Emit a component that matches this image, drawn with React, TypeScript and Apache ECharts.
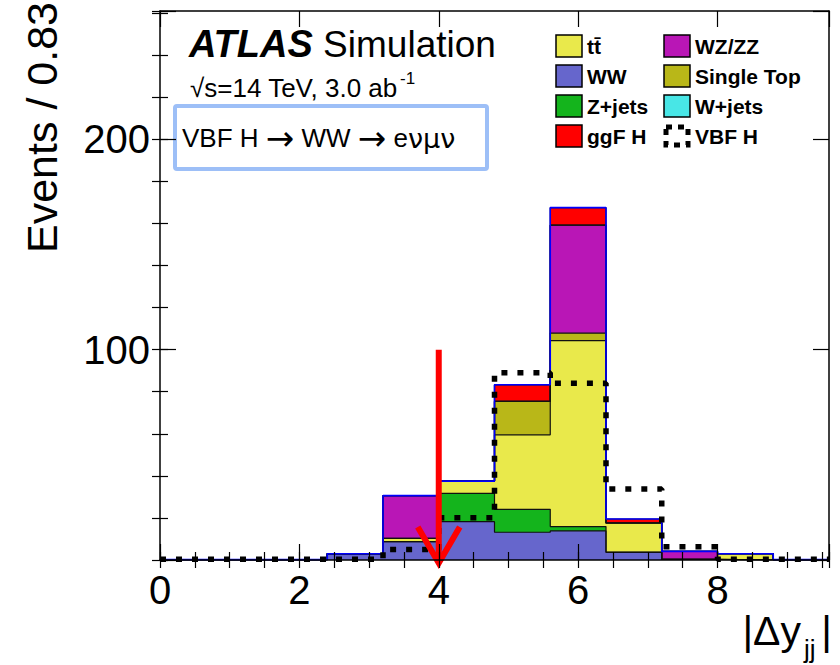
import React, { useEffect, useRef } from "react";
import * as echarts from "echarts";

// |Δy_jj| histogram binning (12 bins of 0.8)
const binEdges = [0, 0.8, 1.6, 2.4, 3.2, 4.0, 4.8, 5.6, 6.4, 7.2, 8.0, 8.8, 9.6];

// Background processes, listed in stacking order (bottom to top)
const ww = [0.2, 0.2, 0.2, 3.0, 8.7, 18.2, 13.2, 13.8, 3.6, 0.3, 0.0, 0.1];
const zJets = [0, 0, 0, 0, 0, 13.5, 10.9, 2.1, 0.2, 0, 0, 0];
const ttbar = [0, 0, 0, 0, 1.6, 5.8, 35.4, 88.4, 13.8, 0, 3.0, 0.1];
const singleTop = [0, 0, 0, 0, 0, 0, 15.9, 3.6, 0, 0, 0, 0];
const wzZZ = [0, 0, 0, 0, 20.3, 0, 0, 51.3, 0, 3.8, 0, 0];
const wJets = [0, 0, 0, 0, 0, 0, 0, 0, 0, 0, 0, 0];
const ggfH = [0, 0, 0, 0, 0, 0, 7.9, 8.3, 1.9, 0, 0, 0];

// Signal, drawn unstacked
const vbfH = [0.3, 0.3, 0.3, 0.3, 5.0, 20.1, 89.0, 84.0, 33.8, 6.3, 0.3, 0.3];

// Selection cut shown by the arrow
const cutValue = 4;
const cutArrowTop = 100;

const xTickLabels = [0, 2, 4, 6, 8];
const yTickLabels = [100, 200];

const FONT = "'Liberation Sans', Arial, Helvetica, sans-serif";
const SYM = "'DejaVu Sans', sans-serif";

const processes = [
  { name: "WW", values: ww, color: "#6666cc" },
  { name: "Z+jets", values: zJets, color: "#14b41c" },
  { name: "tt\u0304", values: ttbar, color: "#e9e94b" },
  { name: "Single Top", values: singleTop, color: "#b9b718" },
  { name: "WZ/ZZ", values: wzZZ, color: "#b916b6" },
  { name: "W+jets", values: wJets, color: "#48e6e6" },
  { name: "ggF H", values: ggfH, color: "#ff0000" },
];

// Points for a step outline: one point per bin's left edge, plus the last right edge
const stepPoints = (vals: number[]) => [
  ...vals.map((v, i) => [binEdges[i], v]),
  [binEdges[vals.length], vals[vals.length - 1]],
];

const textStyle = (extra: any) => ({
  fill: "#000",
  textAlign: "left",
  textVerticalAlign: "middle",
  align: "left",
  verticalAlign: "middle",
  ...extra,
});

export default function App() {
  const ref = useRef<HTMLDivElement>(null);

  useEffect(() => {
    if (!ref.current) return;
    const chart = echarts.init(ref.current, undefined, { renderer: "svg" });

    // cumulative sums for the stack
    const cumulative: number[][] = [];
    processes.forEach((p, k) => {
      cumulative.push(
        p.values.map((v, i) => v + (k > 0 ? cumulative[k - 1][i] : 0))
      );
    });
    const total = cumulative[cumulative.length - 1];

    // draw the tallest cumulative first so lower ones overlay it (THStack style)
    const stackSeries = processes
      .map((p, k) => ({
        name: p.name,
        type: "line",
        step: "end",
        data: stepPoints(cumulative[k]),
        symbol: "none",
        silent: true,
        lineStyle: { color: "#111111", width: 1.2 },
        areaStyle: { color: p.color, opacity: 1 },
        z: 2,
      }))
      .reverse();

    const xBase = {
      type: "value",
      min: 0,
      max: 9.6,
      splitLine: { show: false },
      z: 10,
    };
    const yBase = {
      type: "value",
      min: 0,
      max: 261,
      splitLine: { show: false },
      z: 10,
    };
    const frameLine = { show: true, onZero: false, lineStyle: { color: "#000", width: 1.5 } };
    const tickStyle = { color: "#000", width: 1.2 };

    const legendRows = [
      [processes[2], processes[4]],
      [processes[0], processes[3]],
      [processes[1], processes[5]],
      [processes[6], null],
    ];
    const legendGraphics: any[] = [];
    const colX = [556, 664];
    const rowY = [46, 76, 106, 136];
    legendRows.forEach((row, r) => {
      row.forEach((p, c) => {
        const x = colX[c];
        const y = rowY[r];
        if (p) {
          legendGraphics.push({
            type: "rect",
            shape: { x, y: y - 11, width: 26, height: 22 },
            style: { fill: p.color, stroke: "#000", lineWidth: 1.5 },
          });
        } else {
          legendGraphics.push({
            type: "rect",
            shape: { x: x + 2, y: y - 9, width: 22, height: 18 },
            style: { fill: "none", stroke: "#000", lineWidth: 5, lineDash: [6, 6] },
          });
        }
        legendGraphics.push({
          type: "text",
          x: x + 31,
          y,
          style: textStyle({
            text: p ? p.name : "VBF H",
            font: `bold 21px ${FONT}`,
          }),
        });
      });
    });

    chart.setOption({
      animation: false,
      backgroundColor: "#ffffff",
      grid: { left: 160, right: 11, top: 11, bottom: 105, containLabel: false },
      xAxis: [
        {
          ...xBase,
          position: "bottom",
          interval: 2,
          axisLine: frameLine,
          axisTick: { inside: true, length: 16, lineStyle: tickStyle },
          axisLabel: {
            formatter: (v: number) => (xTickLabels.includes(v) ? String(v) : ""),
            fontSize: 40,
            fontFamily: FONT,
            color: "#000",
            margin: 10,
          },
        },
        {
          ...xBase,
          position: "bottom",
          interval: 0.5,
          axisLine: { show: false },
          axisTick: { inside: true, length: 8, lineStyle: tickStyle },
          axisLabel: { show: false },
        },
        {
          ...xBase,
          position: "top",
          interval: 2,
          axisLine: frameLine,
          axisTick: { inside: true, length: 16, lineStyle: tickStyle },
          axisLabel: { show: false },
        },
        {
          ...xBase,
          position: "top",
          interval: 0.5,
          axisLine: { show: false },
          axisTick: { inside: true, length: 8, lineStyle: tickStyle },
          axisLabel: { show: false },
        },
      ],
      yAxis: [
        {
          ...yBase,
          position: "left",
          interval: 100,
          axisLine: frameLine,
          axisTick: { inside: true, length: 16, lineStyle: tickStyle },
          axisLabel: {
            formatter: (v: number) => (yTickLabels.includes(v) ? String(v) : ""),
            fontSize: 40,
            fontFamily: FONT,
            color: "#000",
            margin: 10,
          },
        },
        {
          ...yBase,
          position: "left",
          interval: 20,
          axisLine: { show: false },
          axisTick: { inside: true, length: 8, lineStyle: tickStyle },
          axisLabel: { show: false },
        },
        {
          ...yBase,
          position: "right",
          interval: 100,
          axisLine: frameLine,
          axisTick: { inside: true, length: 16, lineStyle: tickStyle },
          axisLabel: { show: false },
        },
        {
          ...yBase,
          position: "right",
          interval: 20,
          axisLine: { show: false },
          axisTick: { inside: true, length: 8, lineStyle: tickStyle },
          axisLabel: { show: false },
        },
      ],
      series: [
        ...stackSeries,
        {
          name: "Total",
          type: "line",
          step: "end",
          data: stepPoints(total),
          symbol: "none",
          silent: true,
          lineStyle: { color: "#0000ff", width: 1.6 },
          z: 3,
        },
        {
          name: "VBF H",
          type: "line",
          step: "end",
          data: stepPoints(vbfH),
          symbol: "none",
          silent: true,
          lineStyle: { color: "#000", width: 5.5, type: [6, 10], cap: "butt" },
          z: 4,
        },
        {
          name: "cut",
          type: "custom",
          silent: true,
          z: 5,
          data: [[cutValue, cutArrowTop]],
          renderItem: (_params: any, api: any) => {
            const top = api.coord([api.value(0), api.value(1)]);
            const tip = api.coord([api.value(0), 0]);
            const tipY = tip[1] + 3;
            return {
              type: "group",
              children: [
                {
                  type: "line",
                  shape: { x1: top[0], y1: top[1], x2: tip[0], y2: tipY - 3 },
                  style: { stroke: "#ff0000", lineWidth: 6 },
                },
                {
                  type: "polyline",
                  shape: {
                    points: [
                      [tip[0] - 21, tipY - 36],
                      [tip[0], tipY],
                      [tip[0] + 21, tipY - 36],
                    ],
                  },
                  style: { stroke: "#ff0000", lineWidth: 6, fill: "none" },
                },
              ],
            };
          },
        },
      ],
      graphic: [
        // y-axis title
        {
          type: "text",
          x: 42,
          y: 2,
          rotation: Math.PI / 2,
          style: textStyle({
            text: "Events / 0.83",
            font: `43px ${FONT}`,
            textAlign: "right",
            align: "right",
          }),
        },
        // x-axis title |Δy_jj|
        {
          type: "text",
          x: 801,
          y: 651,
          style: textStyle({
            text: "|\u0394y",
            font: `41px ${FONT}`,
            textAlign: "right",
            align: "right",
            textVerticalAlign: "bottom",
            verticalAlign: "bottom",
          }),
        },
        {
          type: "text",
          x: 804,
          y: 662,
          style: textStyle({
            text: "jj",
            font: `26px ${FONT}`,
            textVerticalAlign: "bottom",
            verticalAlign: "bottom",
          }),
        },
        {
          type: "text",
          x: 832,
          y: 651,
          style: textStyle({
            text: "|",
            font: `41px ${FONT}`,
            textAlign: "right",
            align: "right",
            textVerticalAlign: "bottom",
            verticalAlign: "bottom",
          }),
        },
        // ATLAS label
        {
          type: "text",
          x: 189,
          y: 44,
          style: textStyle({
            text: "{a|ATLAS}{b| Simulation}",
            rich: {
              a: { font: `italic bold 38px ${FONT}`, fill: "#000" },
              b: { font: `37px ${FONT}`, fill: "#000" },
            },
          }),
        },
        {
          type: "text",
          x: 190,
          y: 88,
          style: textStyle({
            text: "\u221As=14 TeV, 3.0 ab",
            font: `26px ${FONT}`,
          }),
        },
        {
          type: "text",
          x: 400,
          y: 78,
          style: textStyle({
            text: "-1",
            font: `17px ${FONT}`,
          }),
        },
        // channel box
        {
          type: "rect",
          shape: { x: 175, y: 106, width: 312, height: 63, r: 2 },
          style: { fill: "none", stroke: "#9dbff7", lineWidth: 4 },
        },
        {
          type: "text",
          x: 182,
          y: 138,
          style: textStyle({
            text: "{t|VBF H }{s|\u2192}{t| WW }{s|\u2192}{t| e}{g|\u03BD\u03BC\u03BD}",
            rich: {
              t: { font: `26px ${FONT}`, fill: "#000" },
              s: { font: `34px ${SYM}`, fill: "#000" },
              g: { font: `27px ${SYM}`, fill: "#000" },
            },
          }),
        },
        ...legendGraphics,
      ],
    });

    return () => chart.dispose();
  }, []);

  return (
    <div
      ref={ref}
      style={{ position: "fixed", left: 0, top: 0, width: 840, height: 665, background: "#fff" }}
    />
  );
}
